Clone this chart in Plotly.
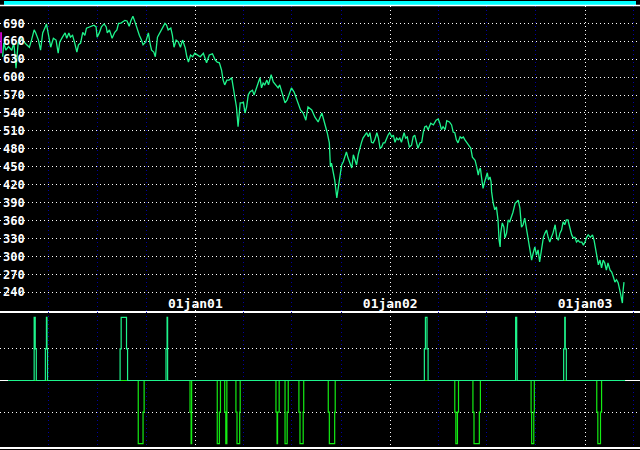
import pandas as pd
import plotly.graph_objects as go

START = pd.Timestamp("2000-01-01")

# ---- price series (day offset from 01jan2000, index value) ----
price_days = [5, 7, 11, 16, 22, 26, 30, 34, 37, 41, 45, 50, 55, 59, 64, 67, 72, 76, 80, 84,
              87, 91, 95, 100, 105, 109, 112, 117, 122, 125, 129, 132, 136, 140, 144, 147, 151, 155, 159, 162,
              167, 172, 176, 180, 182, 186, 190, 195, 199, 201, 205, 210, 215, 219, 222, 226, 230, 234, 238, 242,
              245, 249, 253, 256, 261, 265, 268, 273, 278, 281, 284, 288, 291, 295, 300, 305, 309, 312, 315, 320,
              323, 326, 330, 334, 338, 342, 347, 350, 353, 357, 361, 365, 370, 375, 381, 387, 392, 398, 403, 407,
              411, 415, 418, 421, 425, 429, 434, 437, 440, 443, 446, 450, 453, 456, 459, 462, 465, 468, 473, 476,
              481, 484, 487, 490, 493, 496, 500, 503, 506, 508, 512, 517, 521, 524, 528, 531, 534, 538, 542, 546,
              551, 554, 559, 563, 568, 573, 577, 584, 590, 596, 603, 607, 611, 613, 617, 619, 621, 624, 627, 631,
              633, 636, 638, 640, 643, 646, 649, 652, 656, 659, 662, 665, 668, 671, 674, 677, 680, 684, 687, 690,
              693, 696, 699, 702, 706, 709, 712, 715, 718, 721, 724, 727, 730, 734, 737, 740, 743, 746, 749, 752,
              757, 760, 763, 767, 771, 774, 777, 780, 783, 787, 790, 793, 796, 799, 802, 807, 812, 817, 821, 824,
              827, 830, 834, 837, 842, 846, 849, 852, 855, 858, 862, 865, 868, 871, 874, 879, 882, 885, 888, 890,
              893, 896, 898, 900, 902, 905, 908, 910, 913, 915, 918, 920, 921, 924, 927, 930, 933, 935, 937, 938,
              941, 944, 946, 949, 952, 955, 958, 961, 965, 968, 971, 974, 977, 980, 983, 986, 990, 993, 996, 999,
              1002, 1005, 1008, 1011, 1015, 1018, 1021, 1024, 1027, 1030, 1033, 1036, 1040, 1043, 1046, 1049, 1052, 1055, 1058, 1061,
              1064, 1068, 1071, 1074, 1077, 1080, 1083, 1086, 1090, 1093, 1096, 1099, 1102, 1106, 1110, 1113, 1116, 1119, 1121, 1124,
              1127, 1130, 1133, 1136, 1139, 1143, 1146, 1149, 1152, 1155, 1158, 1161, 1164, 1166, 1167, 1169]
price_vals = [634, 657, 645, 651, 645, 657, 615, 657, 667, 662, 659, 654, 650, 662, 679, 674, 662, 645, 674, 682,
              689, 670, 650, 665, 662, 640, 659, 667, 674, 665, 674, 667, 670, 657, 642, 654, 657, 675, 670, 682,
              684, 685, 687, 684, 667, 674, 684, 689, 684, 674, 679, 665, 675, 679, 690, 690, 692, 695, 694, 685,
              694, 702, 692, 682, 670, 662, 654, 659, 674, 657, 645, 642, 634, 667, 675, 684, 690, 687, 679, 682,
              670, 650, 662, 659, 650, 662, 649, 634, 625, 637, 634, 640, 637, 634, 640, 624, 637, 639, 629, 625,
              624, 612, 595, 587, 595, 595, 599, 582, 567, 550, 517, 557, 557, 558, 540, 550, 570, 575, 578, 570,
              583, 592, 599, 582, 590, 587, 595, 587, 600, 604, 592, 587, 582, 587, 575, 562, 557, 562, 573, 582,
              575, 567, 553, 545, 540, 528, 550, 545, 533, 525, 540, 528, 517, 507, 490, 450, 456, 441, 428, 398,
              411, 428, 440, 453, 458, 466, 475, 465, 456, 448, 470, 461, 453, 470, 483, 490, 498, 503, 507, 500,
              507, 491, 490, 495, 507, 498, 481, 483, 490, 490, 498, 503, 507, 500, 503, 491, 498, 495, 498, 491,
              507, 498, 500, 483, 486, 500, 503, 490, 481, 490, 491, 508, 517, 518, 512, 523, 520, 528, 530, 523,
              512, 517, 512, 527, 525, 520, 508, 507, 495, 490, 500, 498, 500, 495, 491, 486, 481, 466, 463, 461,
              450, 436, 445, 448, 433, 414, 425, 433, 440, 428, 433, 425, 408, 389, 378, 383, 361, 327, 316, 339,
              356, 349, 331, 339, 361, 358, 366, 374, 389, 391, 394, 381, 349, 353, 364, 348, 327, 311, 294, 306,
              316, 302, 311, 291, 311, 332, 339, 344, 332, 324, 332, 339, 353, 332, 327, 339, 344, 358, 353, 361,
              361, 344, 336, 331, 332, 324, 327, 324, 324, 319, 324, 332, 336, 332, 336, 327, 311, 297, 286, 294,
              281, 294, 289, 277, 289, 277, 274, 266, 257, 261, 256, 244, 232, 222, 240, 257]

# ---- signal series (step changes: day offset, level) ----
sig_days = [15, 64, 66, 68, 85, 87, 88, 89, 225, 227, 237, 239, 259, 268, 270, 311, 313, 314,
            356, 358, 359, 407, 411, 413, 421, 423, 425, 442, 444, 449, 450, 517, 519, 520, 523,
            534, 538, 540, 560, 562, 568, 569, 615, 617, 627, 628, 795, 797, 800, 802,
            852, 854, 857, 859, 886, 888, 898, 900, 966, 968, 969, 995, 996, 1000, 1001,
            1056, 1058, 1059, 1061, 1118, 1120, 1125, 1127, 1171]
sig_vals = [0, 2, 1, 0, 1, 2, 1, 0, 1, 2, 1, 0, -2, -1, 0, 1, 2, 0,
            -1, -2, 0, -2, -1, 0, -1, -2, 0, -1, -2, -1, 0, -1, -2, -1, 0,
            -2, -1, 0, -1, -2, -1, 0, -1, -2, -1, 0, 1, 2, 1, 0,
            -1, -2, -1, 0, -1, -2, -1, 0, 2, 1, 0, -1, -2, -1, 0,
            1, 2, 1, 0, -1, -2, -1, 0, 0]

marker_day = [2, 2]
marker_vals = [640, 675]

y_ticks = [240, 270, 300, 330, 360, 390, 420, 450, 480, 510, 540, 570, 600, 630, 660, 690]
year_ticks = ["2001-01-01", "2002-01-01", "2003-01-01"]
year_labels = ["01jan01", "01jan02", "01jan03"]
quarter_ticks = ["2000-04-01", "2000-07-01", "2000-10-01", "2001-04-01", "2001-07-01", "2001-10-01",
                 "2002-04-01", "2002-07-01", "2002-10-01", "2003-04-01"]

price_dates = [START + pd.Timedelta(days=d) for d in price_days]
sig_dates = [START + pd.Timedelta(days=d) for d in sig_days]
sig_pos = [max(v, 0) for v in sig_vals]
sig_neg = [min(v, 0) for v in sig_vals]

MINT = "#1ef48c"
GREEN = "#14ec14"
DOT = "1px,3px"
FONT = dict(family="DejaVu Sans Mono", color="white", weight="bold")

fig = go.Figure()
fig.add_trace(go.Scatter(x=price_dates, y=price_vals, mode="lines",
                         line=dict(color=MINT, width=1.3), xaxis="x", yaxis="y"))
fig.add_trace(go.Scatter(x=[START + pd.Timedelta(days=d) for d in marker_day], y=marker_vals,
                         mode="lines", line=dict(color="#ff00ff", width=1.5), xaxis="x", yaxis="y"))
fig.add_trace(go.Scatter(x=sig_dates, y=sig_neg, mode="lines", line=dict(color=GREEN, width=1.2, shape="hv"),
                         xaxis="x2", yaxis="y2"))
fig.add_trace(go.Scatter(x=sig_dates, y=sig_pos, mode="lines", line=dict(color=MINT, width=1.2, shape="hv"),
                         xaxis="x2", yaxis="y2"))

H = 450.0
W = 640.0
up_dom = [1 - 311 / H, 1 - 6 / H]
lo_dom = [1 - 447 / H, 1 - 312 / H]
xr = ["2000-01-01", "2003-04-14"]

xcommon = dict(type="date", range=xr, showgrid=True, gridcolor="white", griddash=DOT, gridwidth=1,
               tickvals=year_ticks, ticktext=year_labels, ticks="", zeroline=False, automargin=False,
               minor=dict(tickvals=quarter_ticks, showgrid=True, gridcolor="#0000a0", griddash=DOT, gridwidth=1),
               showline=True, linecolor="white", linewidth=2)

fig.update_layout(
    width=640, height=450, margin=dict(l=0, r=0, t=0, b=0, pad=0, autoexpand=False),
    paper_bgcolor="black", plot_bgcolor="black", showlegend=False,
    xaxis=dict(**xcommon, domain=[0, 1], anchor="y", ticklabelposition="inside",
               tickfont=dict(**FONT, size=13)),
    xaxis2=dict(**xcommon, domain=[0, 1], anchor="y2", matches="x", showticklabels=False),
    yaxis=dict(domain=up_dom, range=[208.7, 719], tickvals=y_ticks, ticklabelposition="inside",
               tickfont=dict(**FONT, size=12), ticks="", showgrid=True, gridcolor="white", automargin=False,
               griddash=DOT, gridwidth=1, zeroline=False, showline=False),
    yaxis2=dict(domain=lo_dom, range=[-2.108, 2.171], tickvals=[-1, 1], showticklabels=False,
                ticks="", showgrid=True, gridcolor="white", griddash=DOT, gridwidth=1, automargin=False,
                zeroline=True, zerolinecolor="white", zerolinewidth=1, showline=False),
    shapes=[
        dict(type="rect", xref="paper", yref="paper", x0=4 / W, x1=636 / W, y0=1 - 5 / H, y1=1 - 1 / H,
             fillcolor="#00ffff", line=dict(width=0)),
        dict(type="line", xref="paper", yref="paper", x0=0, x1=1, y0=1 - 5.5 / H, y1=1 - 5.5 / H,
             line=dict(color="white", width=1.5)),
        dict(type="rect", xref="paper", yref="paper", x0=0, x1=26 / W, y0=1 - 309 / H, y1=1 - 7 / H,
             fillcolor="black", line=dict(width=0), layer="between"),
    ],
)

fig.write_html("out.html", config={"displayModeBar": False},
               post_script="document.body.style.margin='0';document.body.style.background='black';"
                           "document.body.style.overflow='hidden';")
